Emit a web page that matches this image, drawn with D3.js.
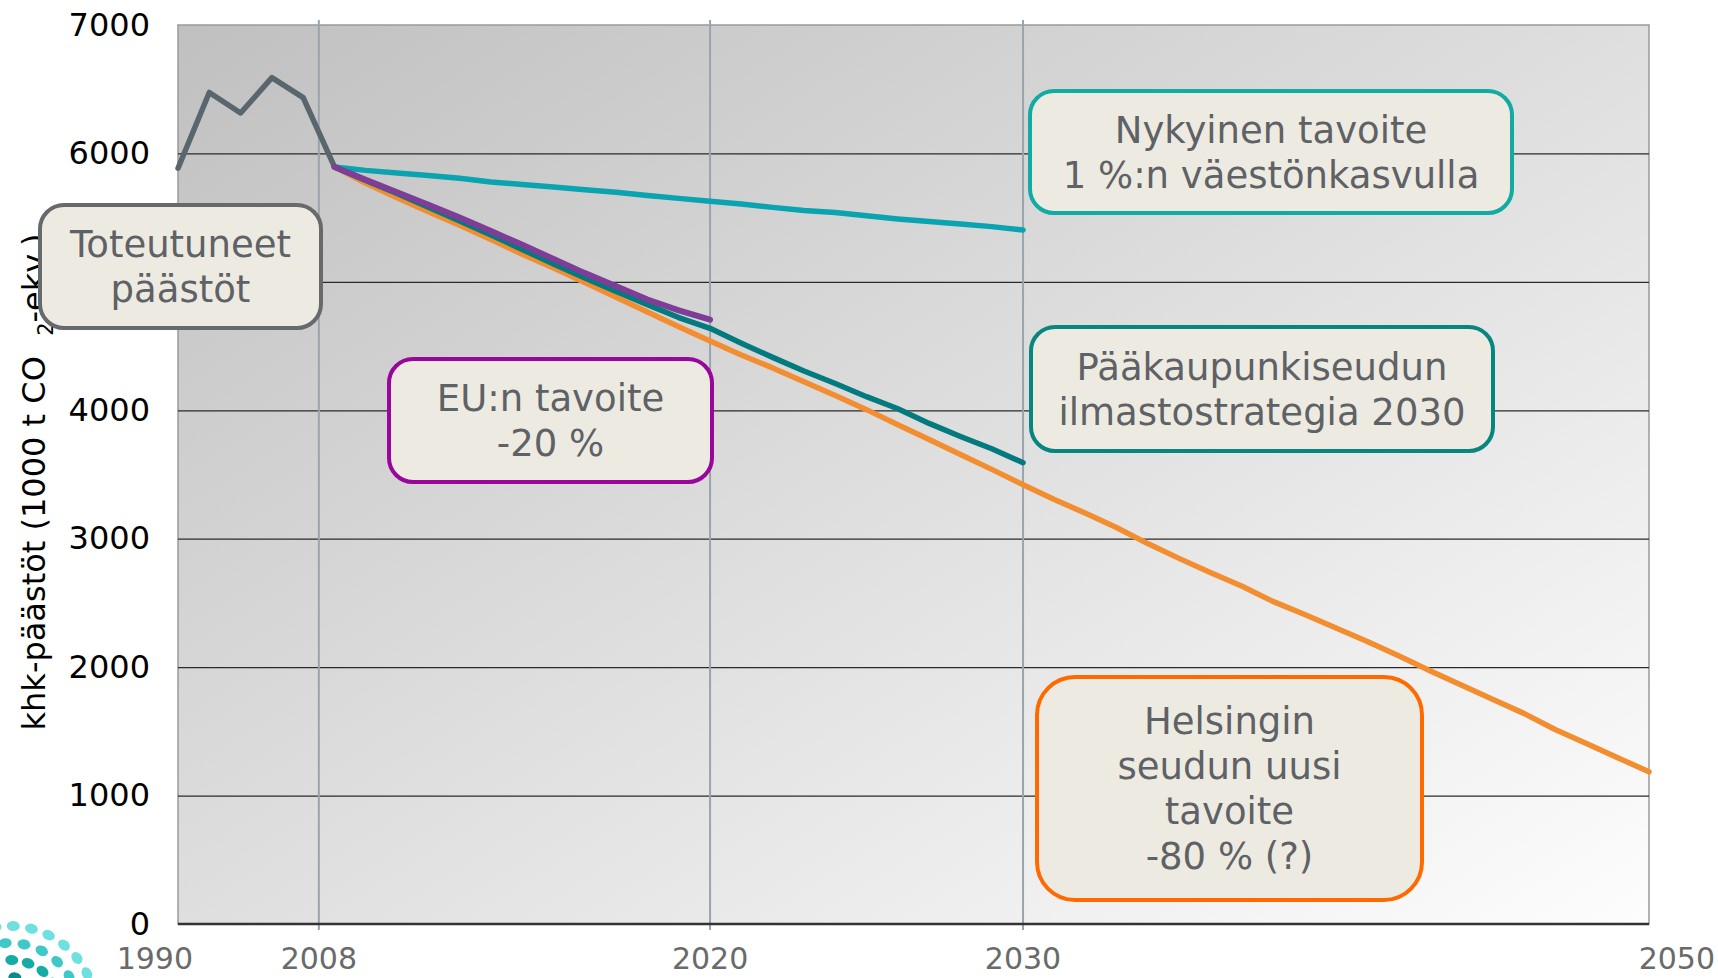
<!DOCTYPE html>
<html><head><meta charset="utf-8">
<script src="https://cdn.jsdelivr.net/npm/d3@7"></script>
<style>html,body{margin:0;padding:0;background:#fff;} svg{display:block;}</style>
</head><body>
<svg id="chart" width="1718" height="978"></svg>
<script>
// ---------------- DATA ----------------
const categories = ["1990","2000","2003","2005","2006",
  "2008","2009","2010","2011","2012","2013","2014","2015","2016","2017","2018","2019",
  "2020","2021","2022","2023","2024","2025","2026","2027","2028","2029",
  "2030","2031","2032","2033","2034","2035","2036","2037","2038","2039",
  "2040","2041","2042","2043","2044","2045","2046","2047","2048","2049","2050"];

const toteutuneetCats = ["1990","2000","2003","2005","2006","2008"];
const toteutuneet     = [5885, 6475, 6315, 6590, 6435, 5895];

const nykyinenCats = ["2008","2009","2010","2011","2012","2013","2014","2015","2016","2017","2018","2019",
  "2020","2021","2022","2023","2024","2025","2026","2027","2028","2029","2030"];
const nykyinen = [5895, 5868, 5848, 5828, 5806, 5778, 5758, 5738, 5718, 5698, 5672, 5650,
  5628, 5606, 5580, 5556, 5540, 5514, 5490, 5470, 5450, 5430, 5404];

const strategiaCats = nykyinenCats;
const strategia = [5895, 5790, 5688, 5582, 5474, 5365, 5252, 5140, 5030, 4925, 4822, 4722,
  4638, 4522, 4412, 4306, 4208, 4106, 4012, 3898, 3796, 3700, 3592];

const euCats = ["2008","2009","2010","2011","2012","2013","2014","2015","2016","2017","2018","2019","2020"];
const eu = [5895, 5795, 5698, 5600, 5500, 5395, 5288, 5178, 5068, 4965, 4862, 4778, 4705];

const helsinkiCats = ["2008","2009","2010","2011","2012","2013","2014","2015","2016","2017","2018","2019",
  "2020","2021","2022","2023","2024","2025","2026","2027","2028","2029",
  "2030","2031","2032","2033","2034","2035","2036","2037","2038","2039",
  "2040","2041","2042","2043","2044","2045","2046","2047","2048","2049","2050"];
const helsinki = [5895, 5768, 5655, 5545, 5440, 5330, 5215, 5108, 4995, 4880, 4765, 4650,
  4540, 4430, 4330, 4222, 4115, 4005, 3888, 3772, 3655, 3540,
  3420, 3305, 3198, 3085, 2960, 2845, 2735, 2630, 2510, 2410,
  2305, 2200, 2088, 1972, 1860, 1750, 1640, 1515, 1405, 1295, 1185];

const yTicks = [0, 1000, 2000, 3000, 4000, 5000, 6000, 7000];
const xTickLabels = ["1990", "2008", "2020", "2030", "2050"];
const markerYears = ["2008", "2020", "2030"];

const yTitleMain = "khk-päästöt (1000 t CO";
const yTitleSub = "2";
const yTitleEnd = "-ekv.)";

const boxToteutuneet = ["Toteutuneet", "päästöt"];
const boxNykyinen = ["Nykyinen tavoite", "1 %:n väestönkasvulla"];
const boxStrategia = ["Pääkaupunkiseudun", "ilmastostrategia 2030"];
const boxEU = ["EU:n tavoite", "-20 %"];
const boxHelsinki = ["Helsingin", "seudun uusi", "tavoite", "-80 % (?)"];

// ---------------- LAYOUT ----------------
const W = 1718, H = 978;
const plot = {left: 178, right: 1649, top: 25, bottom: 924};
const svg = d3.select("#chart");
const FONT = "'DejaVu Sans', Verdana, sans-serif";

const xi = d3.scaleLinear().domain([0, categories.length - 1]).range([plot.left, plot.right]);
const x = c => xi(categories.indexOf(c));
const y = d3.scaleLinear().domain([0, 7000]).range([plot.bottom, plot.top]);

// background gradient
const defs = svg.append("defs");
const grad = defs.append("linearGradient").attr("id", "bg")
  .attr("x1", 0).attr("y1", 0).attr("x2", 1).attr("y2", 1);
grad.append("stop").attr("offset", "0%").attr("stop-color", "#c0c0c0");
grad.append("stop").attr("offset", "100%").attr("stop-color", "#fdfdfd");

svg.append("rect").attr("x", plot.left).attr("y", plot.top)
  .attr("width", plot.right - plot.left).attr("height", plot.bottom - plot.top)
  .attr("fill", "url(#bg)").attr("stroke", "#9a9a9a").attr("stroke-width", 1.5);

// horizontal gridlines
const grid = svg.append("g").attr("transform", `translate(${plot.left},0)`)
  .call(d3.axisLeft(y).tickValues(yTicks.filter(v => v > 0 && v < 7000))
    .tickSize(-(plot.right - plot.left)).tickFormat(""));
grid.select(".domain").remove();
grid.selectAll("line").attr("stroke", "#2a2a2a").attr("stroke-width", 1.2);

// y axis labels
const yAxis = svg.append("g").attr("transform", `translate(${plot.left},0)`)
  .call(d3.axisLeft(y).tickValues(yTicks).tickSize(0).tickPadding(28).tickFormat(d3.format("d")));
yAxis.select(".domain").remove();
yAxis.selectAll("text").attr("font-family", FONT).attr("font-size", 32).attr("fill", "#000");

// vertical marker lines
const markerIndex = c => categories.indexOf(c) - (c === "2008" ? 0.5 : 0);
svg.append("g").selectAll("line").data(markerYears).join("line")
  .attr("x1", d => xi(markerIndex(d))).attr("x2", d => xi(markerIndex(d)))
  .attr("y1", plot.top - 5).attr("y2", plot.bottom + 6)
  .attr("stroke", "#9aa4ae").attr("stroke-width", 2);

// bottom axis line
svg.append("line").attr("x1", plot.left).attr("x2", plot.right)
  .attr("y1", plot.bottom).attr("y2", plot.bottom)
  .attr("stroke", "#333").attr("stroke-width", 2.5);

// x tick labels
const lastI = xTickLabels.length - 1;
svg.append("g").selectAll("text").data(xTickLabels).join("text")
  .attr("x", (d, i) => i === 0 ? xi(0) + 15 : (i === lastI ? W - 3 : xi(markerIndex(d))))
  .attr("y", 969)
  .attr("text-anchor", (d, i) => i === 0 ? "end" : (i === lastI ? "end" : "middle"))
  .attr("font-family", FONT).attr("font-size", 30).attr("fill", "#6a6a6a")
  .text(d => d);

// lines
const lineGen = d3.line().x(d => x(d[0])).y(d => y(d[1]));
function drawLine(cats, vals, color, width) {
  svg.append("path").datum(cats.map((c, i) => [c, vals[i]]))
    .attr("d", lineGen).attr("fill", "none").attr("stroke", color)
    .attr("stroke-width", width).attr("stroke-linejoin", "round").attr("stroke-linecap", "round");
}
drawLine(toteutuneetCats, toteutuneet, "#59666d", 5.5);
drawLine(nykyinenCats, nykyinen, "#0aa3b0", 5.5);
drawLine(helsinkiCats, helsinki, "#f28d30", 5.5);
drawLine(strategiaCats, strategia, "#037a7d", 5.5);
drawLine(euCats, eu, "#7e3d97", 6);

// y title
const yt = svg.append("text")
  .attr("transform", `translate(45,482) rotate(-90)`)
  .attr("text-anchor", "middle").attr("font-family", FONT).attr("font-size", 32).attr("fill", "#000");
yt.append("tspan").text(yTitleMain + "\u00a0\u00a0");
yt.append("tspan").attr("font-size", 21).attr("dy", 8).text(yTitleSub);
yt.append("tspan").attr("dy", -8).text(yTitleEnd);

// annotation boxes
function box(lines, bx, by, bw, bh, r, color) {
  const g = svg.append("g");
  g.append("rect").attr("x", bx).attr("y", by).attr("width", bw).attr("height", bh)
    .attr("rx", r).attr("ry", r).attr("fill", "#edebe1").attr("stroke", color).attr("stroke-width", 4);
  const fs = 37, lh = 45, cy = by + bh / 2;
  g.selectAll("text").data(lines).join("text")
    .attr("x", bx + bw / 2)
    .attr("y", (d, i) => cy - (lines.length - 1) / 2 * lh + i * lh + 0.36 * fs)
    .attr("text-anchor", "middle").attr("font-family", FONT).attr("font-size", fs)
    .attr("fill", "#5e6165").text(d => d);
}
box(boxToteutuneet, 40, 205, 281, 123, 24, "#68696b");
box(boxNykyinen, 1030, 91, 482, 122, 24, "#12aba4");
box(boxStrategia, 1031, 327, 462, 124, 24, "#07867f");
box(boxEU, 389, 359, 323, 123, 24, "#98069b");
box(boxHelsinki, 1037, 677, 385, 223, 38, "#ff6a00");

// logo (decorative rosette, bottom-left)
const logo = svg.append("g");
const rings = [{r: 86, c: "#6fe0e0", n: 10}, {r: 69, c: "#3ec9c8", n: 8}, {r: 52, c: "#17aba6", n: 7}, {r: 35, c: "#0b8c88", n: 5}];
rings.forEach((ring, k) => {
  for (let j = 0; j < ring.n; j++) {
    const a = (-100 + j * (110 / (ring.n - 1)) + k * 6) * Math.PI / 180;
    const cx = 10 + ring.r * Math.cos(a), cy = 1012 + ring.r * Math.sin(a);
    logo.append("ellipse").attr("cx", cx).attr("cy", cy)
      .attr("rx", 6.5).attr("ry", 5).attr("fill", ring.c)
      .attr("transform", `rotate(${a * 180 / Math.PI + 90},${cx},${cy})`);
  }
});
</script>
</body></html>
